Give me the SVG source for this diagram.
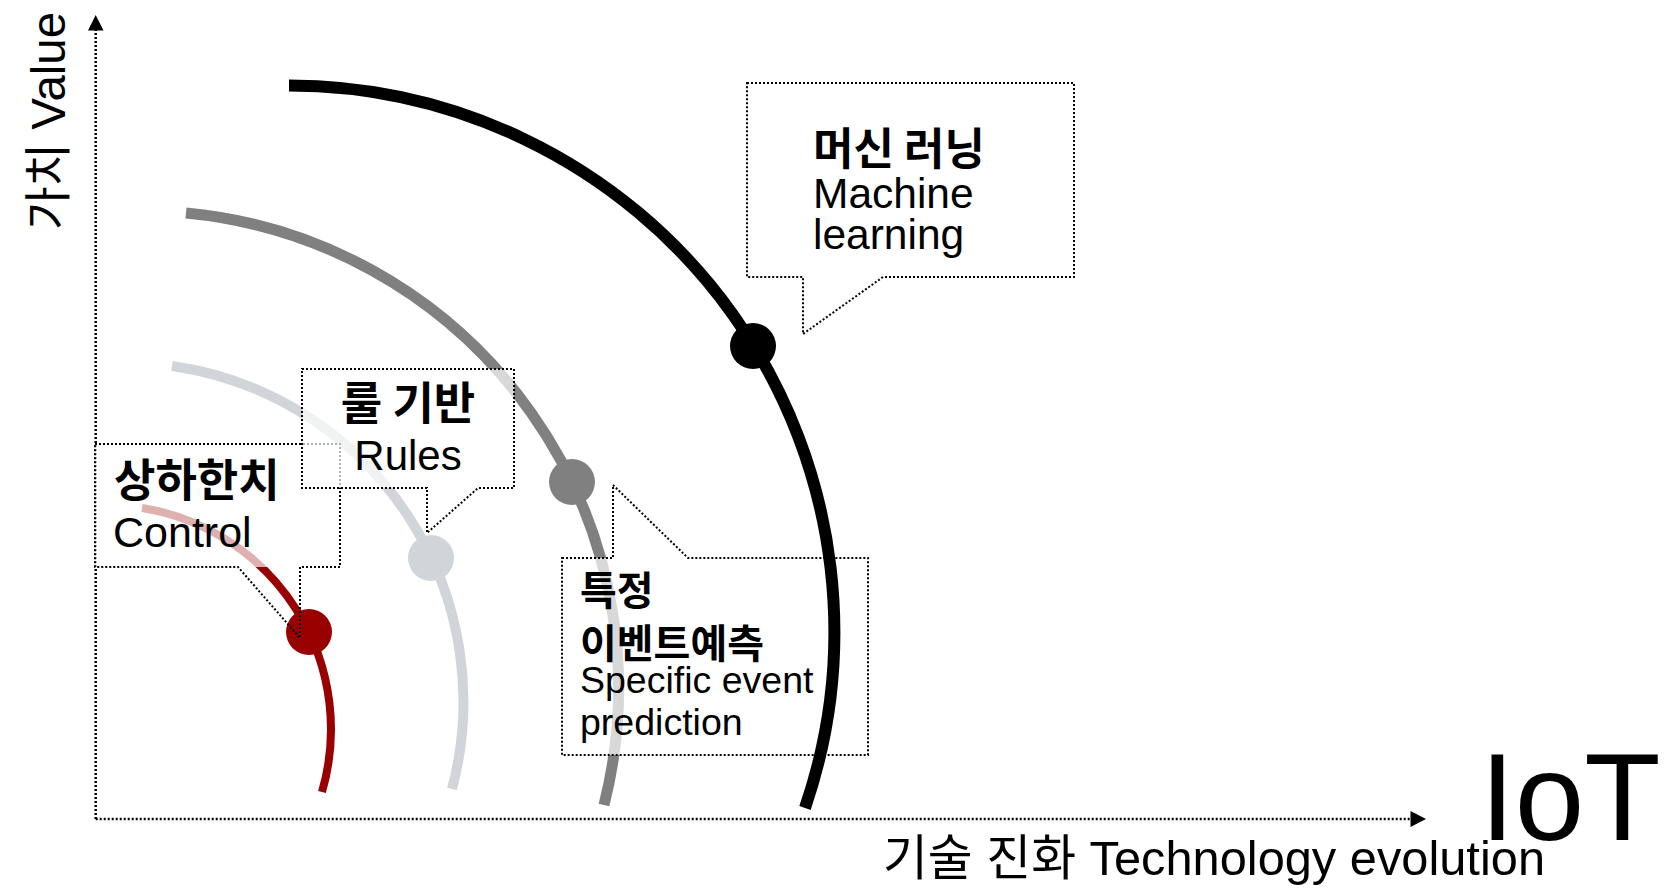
<svg xmlns="http://www.w3.org/2000/svg" width="1668" height="890" viewBox="0 0 1668 890">
<defs>
<style>
.lat{font-family:"Liberation Sans",Arial,sans-serif;fill:#000}
.kr{font-family:"Liberation Sans","Noto Sans CJK KR",sans-serif;fill:#000}
.krb{font-family:"Noto Sans CJK KR","Liberation Sans",sans-serif;font-weight:bold;fill:#000}
.arc{fill:none;stroke-linecap:butt}
.box{fill:#fff;fill-opacity:0.69;stroke:none}
.dot{fill:none;stroke:#000;stroke-width:2;stroke-dasharray:2 2}
.axis{fill:none;stroke:#000;stroke-width:2.5;stroke-dasharray:2 2}
</style>
</defs>
<rect width="1668" height="890" fill="#fff"/>

<g id="connectors">
<path class="axis" d="M95.7,819 V30"/>
<path d="M95.7,15 L103.5,30.5 L88,30.5 Z" fill="#000"/>
<path class="axis" d="M95.7,819 H1411"/>
<path d="M1426,819 L1410.5,811 L1410.5,827 Z" fill="#000"/>
</g>

<g id="arc-control">
<path class="arc" d="M142,508 A224,224 0 0 1 322,792" stroke="#990000" stroke-width="8"/>
<circle cx="309" cy="632" r="23" fill="#990000"/>
</g>
<g id="arc-rules">
<path class="arc" d="M172,366 A339,339 0 0 1 452,789" stroke="#D1D5DA" stroke-width="10"/>
<circle cx="431" cy="558" r="23" fill="#D1D5DA"/>
</g>
<g id="arc-event">
<path class="arc" d="M186,213 A477,477 0 0 1 604,805" stroke="#808080" stroke-width="11"/>
<circle cx="572" cy="482" r="23" fill="#808080"/>
</g>

<g id="callout-control">
<rect class="box" x="95" y="444" width="245" height="123"/>
<path class="dot" d="M95,444 H340 V567 H300 V638 L238,567 H95 Z"/>
<text class="krb" x="114" y="497" font-size="45">상하한치</text>
<text class="lat" x="113" y="547" font-size="43">Control</text>
</g>

<g id="callout-rules">
<path class="box" d="M302,369 H514 V488 H478 L427,533 V488 H302 Z"/>
<path class="dot" d="M302,369 H514 V488 H478 L427,533 V488 H302 Z"/>
<text class="krb" x="408" y="420" font-size="45" text-anchor="middle">룰 기반</text>
<text class="lat" x="408" y="470" font-size="42" text-anchor="middle">Rules</text>
</g>

<g id="callout-event">
<path class="box" d="M562,558 H613 V485 L688,558 H868 V755 H562 Z"/>
<path class="dot" d="M562,558 H613 V485 L688,558 H868 V755 H562 Z"/>
<text class="krb" x="580" y="605" font-size="40">특정</text>
<text class="krb" x="580" y="658" font-size="40">이벤트예측</text>
<text class="lat" x="580" y="693" font-size="37.5">Specific event</text>
<text class="lat" x="580" y="735" font-size="37.5">prediction</text>
</g>

<g id="arc-ml">
<path class="arc" d="M289,85.5 A546,546 0 0 1 805,808" stroke="#000" stroke-width="12"/>
<circle cx="753" cy="346" r="23" fill="#000"/>
</g>

<g id="callout-ml">
<path class="box" d="M747,83 H1074 V277 H883 L803,334 V277 H747 Z"/>
<path class="dot" d="M747,83 H1074 V277 H883 L803,334 V277 H747 Z"/>
<text class="krb" x="813" y="165" font-size="44">머신 러닝</text>
<text class="lat" x="813" y="208" font-size="42.5">Machine</text>
<text class="lat" x="813" y="249" font-size="42.5">learning</text>
</g>

<g id="labels">
<text class="kr" transform="translate(65,230) rotate(-90)" font-size="48" textLength="218" lengthAdjust="spacingAndGlyphs">가치 Value</text>
<text class="kr" x="883" y="875" font-size="49" textLength="662" lengthAdjust="spacingAndGlyphs">기술 진화 Technology evolution</text>
<text class="lat" x="1480" y="840" font-size="125">IoT</text>
</g>
</svg>
